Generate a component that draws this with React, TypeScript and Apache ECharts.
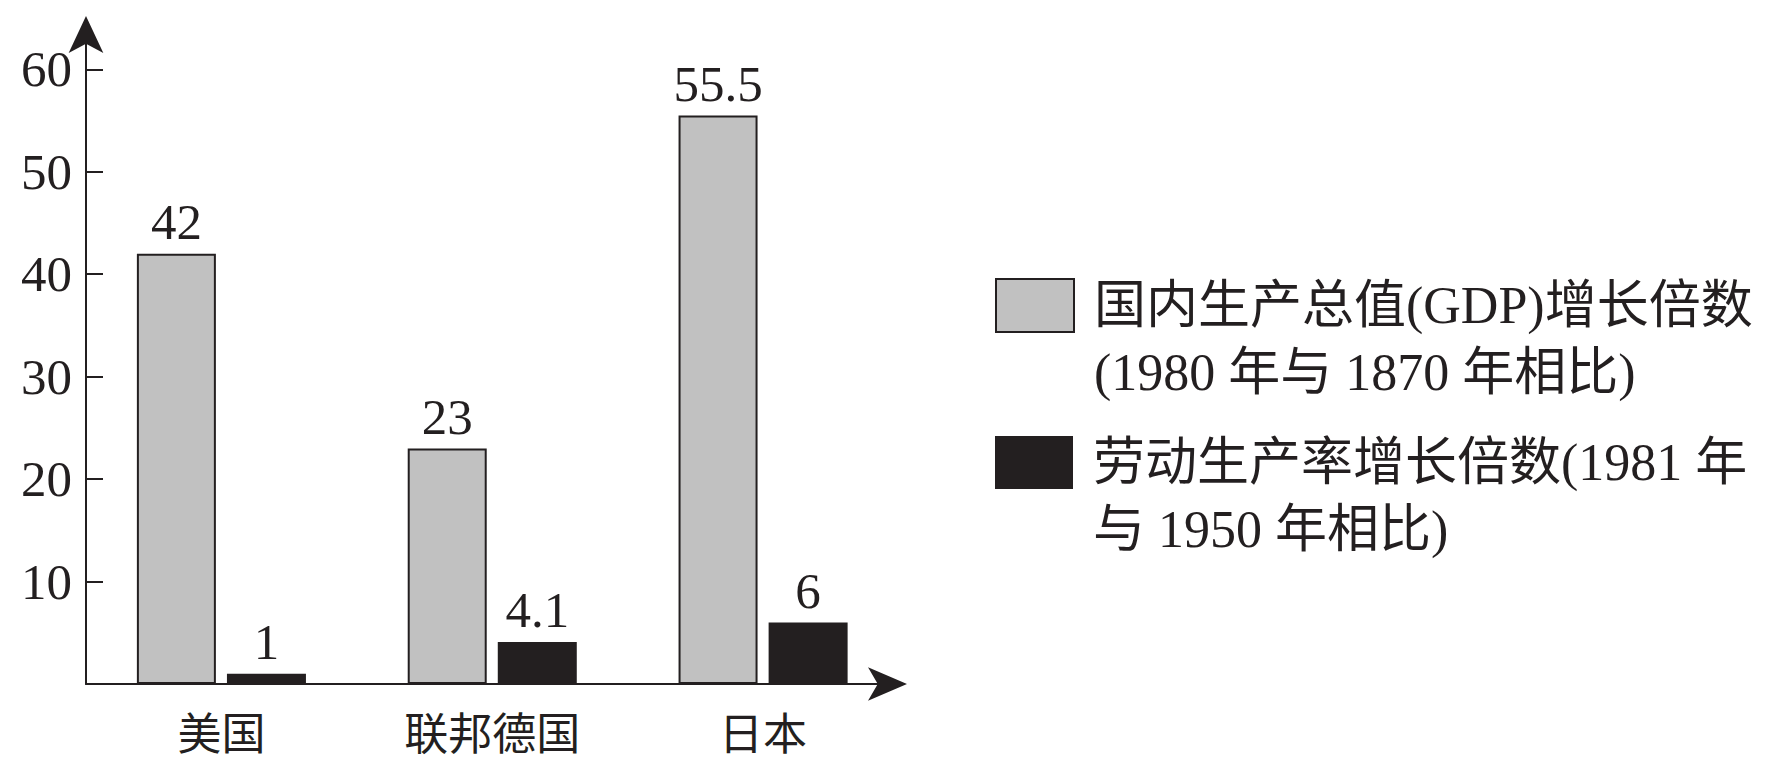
import React, { useEffect, useRef } from "react";
import * as echarts from "echarts";

const categories = ["美国", "联邦德国", "日本"];
const gdpValues = [42, 23, 55.5];
const laborValues = [1, 4.1, 6];
const yTicks = [10, 20, 30, 40, 50, 60];
const gdpName = "国内生产总值(GDP)增长倍数\n(1980 年与 1870 年相比)";
const laborName = "劳动生产率增长倍数(1981 年\n与 1950 年相比)";

const INK = "#231f20";
const GRAY = "#c1c1c1";
const SERIF = "'Liberation Serif', 'Times New Roman', serif";
const MIXED = "'Liberation Serif', 'Noto Sans CJK SC', serif";
const CJK = "'Noto Sans CJK SC', sans-serif";

export default function App() {
  const ref = useRef<HTMLDivElement>(null);
  useEffect(() => {
    if (!ref.current) return;
    const chart = echarts.init(ref.current, null, { renderer: "svg" });
    const legendText = {
      color: INK,
      fontFamily: MIXED,
      fontSize: 52,
      lineHeight: 67,
      padding: [0, 0, 0, 15],
    };
    // leading empty line keeps the first text line level with the swatch
    const legendFormatter = (name: string) => "\n" + name;
    chart.setOption({
      animation: false,
      backgroundColor: "#ffffff",
      grid: {
        left: 86,
        top: 34.5,
        width: 812.5,
        height: 649.5,
        containLabel: false,
        outerBoundsMode: "none",
      },
      legend: [
        {
          data: [
            {
              name: gdpName,
              itemStyle: { color: GRAY, borderColor: INK, borderWidth: 2 },
            },
          ],
          left: 995,
          top: 205,
          orient: "vertical",
          padding: 0,
          itemWidth: 78,
          itemHeight: 53,
          icon: "rect",
          selectedMode: false,
          formatter: legendFormatter,
          textStyle: legendText,
        },
        {
          data: [{ name: laborName, itemStyle: { color: INK, borderWidth: 0 } }],
          left: 995,
          top: 362,
          orient: "vertical",
          padding: 0,
          itemWidth: 78,
          itemHeight: 53,
          icon: "rect",
          selectedMode: false,
          formatter: legendFormatter,
          textStyle: legendText,
        },
      ],
      xAxis: {
        type: "category",
        data: categories,
        axisLine: {
          show: true,
          symbol: ["none", "arrow"],
          symbolSize: [25, 39],
          symbolOffset: [0, 8.5],
          lineStyle: { color: INK, width: 2 },
        },
        axisTick: { show: false },
        axisLabel: {
          color: INK,
          fontFamily: CJK,
          fontSize: 44,
          margin: 25,
        },
        splitLine: { show: false },
      },
      yAxis: {
        type: "value",
        min: 0,
        max: 63.4,
        interval: 10,
        axisLine: {
          show: true,
          symbol: ["none", "arrow"],
          symbolSize: [26, 37],
          symbolOffset: [0, 18.5],
          lineStyle: { color: INK, width: 2 },
        },
        axisTick: {
          show: true,
          inside: true,
          length: 17,
          customValues: yTicks,
          lineStyle: { color: INK, width: 2 },
        },
        axisLabel: {
          color: INK,
          fontFamily: SERIF,
          fontSize: 51,
          margin: 14,
          customValues: yTicks,
        },
        splitLine: { show: false },
      },
      series: [
        {
          name: gdpName,
          type: "bar",
          data: gdpValues,
          barWidth: 79,
          barGap: "14%",
          itemStyle: { color: GRAY, borderColor: INK, borderWidth: 2 },
          label: {
            show: true,
            position: "top",
            distance: 6,
            color: INK,
            fontFamily: SERIF,
            fontSize: 51,
          },
        },
        {
          name: laborName,
          type: "bar",
          data: laborValues,
          barWidth: 79,
          barGap: "14%",
          itemStyle: { color: INK },
          label: {
            show: true,
            position: "top",
            distance: 6,
            color: INK,
            fontFamily: SERIF,
            fontSize: 51,
          },
        },
      ],
    });
    return () => chart.dispose();
  }, []);
  return (
    <div
      ref={ref}
      style={{ position: "fixed", left: 0, top: 0, width: 1791, height: 777 }}
    />
  );
}
